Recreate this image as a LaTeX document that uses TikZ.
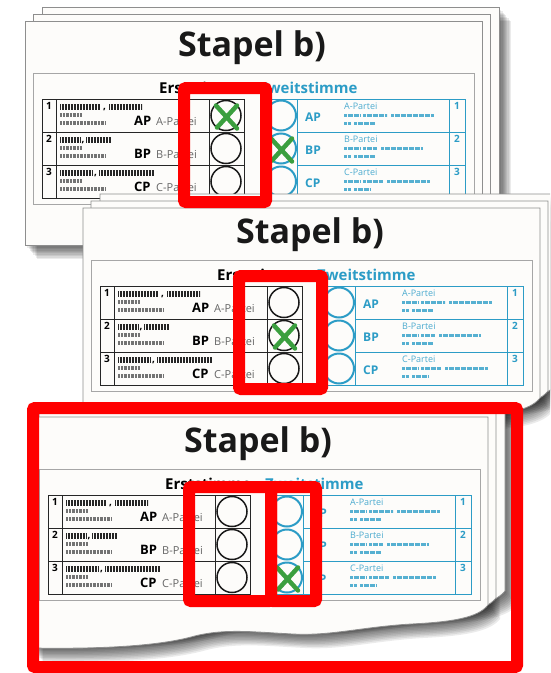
\documentclass[tikz,border=0pt]{standalone}
\usepackage{fontspec}
\setmainfont{Open Sans}
\usepackage{xcolor}
\usepackage{tikz}
\usetikzlibrary{calc}
\definecolor{ballotred}{HTML}{FF0000}
\definecolor{ballotcyan}{HTML}{2C9CC6}
\definecolor{ballotgreen}{HTML}{3B9F3F}
\definecolor{sheetfill}{HTML}{FDFCFA}
\definecolor{sheetedge}{HTML}{8E8E8E}
\tikzset{
  sheet/.style={draw=sheetedge,line width=.8pt,fill=sheetfill},
  sheetshadow/.style={fill=black,opacity=.08,draw=none},
  stackframe/.style={draw=gray!70,line width=.9pt},
  blacktab/.style={draw=black!85,line width=.9pt},
  cyantab/.style={draw=ballotcyan,line width=1pt},
  titletext/.style={font=\fontsize{34}{34}\selectfont\bfseries,text=black!90,inner sep=0pt},
  headtext/.style={font=\fontsize{15}{15}\selectfont\bfseries,inner sep=0pt,anchor=base west},
  numtext/.style={font=\fontsize{10}{10}\selectfont\bfseries,inner sep=0pt,anchor=base},
  rnumtext/.style={numtext,text=ballotcyan},
  abbrtext/.style={font=\fontsize{13}{13}\selectfont\bfseries,inner sep=0pt,anchor=base west},
  partytext/.style={font=\fontsize{11}{11}\selectfont,text=black!60,inner sep=0pt,anchor=base west},
  cyanabbr/.style={font=\fontsize{12}{12}\selectfont\bfseries,text=ballotcyan,inner sep=0pt,anchor=base west},
  cyanname/.style={font=\fontsize{9}{9}\selectfont,text=ballotcyan!85,inner sep=0pt,anchor=base west},
  namebars/.style={draw=black!85,line width=5.5pt,dash pattern=on .7pt off .8pt},
  smallbars/.style={draw=black!55,line width=4pt,dash pattern=on .6pt off .8pt},
  cyanbars/.style={draw=ballotcyan!80,line width=3pt,dash pattern=on .5pt off .7pt},
  ballotcircle/.style={draw=black!90,line width=1.5pt},
  zweitcircle/.style={draw=ballotcyan,line width=2pt},
  xmark/.style={draw=ballotgreen,line width=4.5pt,line cap=round},
  redmark/.style={draw=ballotred,line width=12pt,rounded corners=2pt}
}
% one stack of ballots: id, x, y, right/bottom edge, marks (x/row)
\newcommand{\ballotstack}[5]{%
  \begin{scope}[shift={(#2,#3)}]
    \foreach \k in {1,...,10}{
      \fill[sheetshadow,shift={({17+1.2*\k},{-14+1.4*\k})}] (0,0) -- (457,0) #4 -- cycle;
      \fill[sheetshadow,shift={({1.2*\k},{1.4*\k})}] (0,0) -- (457,0) #4 -- cycle;
    }
    \draw[sheet,shift={(17,-14)}] (0,0) -- (457,0) #4 -- cycle;
    \draw[sheet,shift={(8,-7)}] (0,0) -- (457,0) #4 -- cycle;
    \draw[sheet] (0,0) -- (457,0) #4 -- cycle;
    \node[titletext,anchor=base] (#1-title) at (227,35) {Stapel b)};
    \draw[stackframe] (8,52) rectangle (449,183);
    \node[headtext] (#1-erst) at (134,72) {Erststimme};
    \node[headtext,text=ballotcyan] (#1-zweit) at (234,72) {Zweitstimme};
    % Erststimme table
    \draw[blacktab] (17,78) rectangle (219,177);
    \draw[blacktab] (31,78) -- (31,177) (184,78) -- (184,177) (17,111) -- (219,111) (17,144) -- (219,144);
    % Zweitstimme table
    \draw[cyantab] (240,78) -- (440,78) -- (440,177) -- (240,177);
    \draw[cyantab] (272,78) -- (272,177) (424,78) -- (424,177) (272,111) -- (440,111) (272,144) -- (440,144);
    \foreach \n/\p/\sa/\sb/\sc/\ra/\rb/\rc in {1/A/75/84/117/362/409/350,2/B/55/61/86/352/397/350,3/C/67/74/129/358/405/345}{
      \pgfmathsetmacro\ry{45+33*\n}
      \node[numtext] (#1-lnum\n) at (24,\ry+10) {\n};
      \draw[namebars] (35,\ry+8) -- (\sa,\ry+8) (\sb,\ry+8) -- (\sc,\ry+8);
      \node[numtext] (#1-comma\n) at ({(\sa+\sb)/2},\ry+10) {,};
      \draw[smallbars] (35,\ry+16) -- (57,\ry+16) (35,\ry+24) -- (80,\ry+24);
      \node[abbrtext] (#1-labbr\n) at (109,\ry+26) {\p P};
      \node[partytext] (#1-lname\n) at (131,\ry+26) {\p-Partei};
      \draw[ballotcircle] (201,\ry+16.5) circle[radius=15pt];
      \draw[zweitcircle] (256,\ry+16.5) circle[radius=15pt];
      \node[cyanabbr] (#1-rabbr\n) at (280,\ry+22) {\p P};
      \node[cyanname] (#1-rname\n) at (319,\ry+10) {\p-Partei};
      \draw[cyanbars] (319,\ry+16.5) -- (335,\ry+16.5) (338,\ry+16.5) -- (\ra,\ry+16.5) (\ra+4,\ry+16.5) -- (\rb,\ry+16.5)
        (319,\ry+24) -- (326,\ry+24) (329,\ry+24) -- (\rc,\ry+24);
      \node[rnumtext] (#1-rnum\n) at (432,\ry+10) {\n};
    }
    \foreach \mx/\mr in {#5}{
      \pgfmathsetmacro\my{61.5+33*\mr}
      \draw[xmark] (\mx-10,\my-10) -- (\mx+11,\my+13) (\mx+11,\my-10) -- (\mx-9,\my+12);
    }
  \end{scope}}

\begin{document}
\begin{tikzpicture}[x=1pt,y=-1pt]
  \useasboundingbox (0,0) rectangle (550,673);
  \clip (0,0) rectangle (550,673);
  \ballotstack{s1}{25}{21}{-- (457,224) -- (0,224)}{201/1,256/2}
  \ballotstack{s2}{83}{208}{-- (457,190) .. controls (447,203) and (420,207) .. (380,209) .. controls (330,212) and (300,221) .. (262,219) .. controls (222,217) and (192,213) .. (160,222) .. controls (122,232) and (60,234) .. (0,233)}{201/2}
  \ballotstack{s3}{31}{417}{-- (457,188) .. controls (447,201) and (420,205) .. (380,207) .. controls (330,210) and (300,219) .. (262,217) .. controls (222,215) and (192,211) .. (160,220) .. controls (122,230) and (60,232) .. (0,231)}{256/3}
  % red highlights
  \draw[redmark] (184,88) rectangle (266,202);
  \draw[redmark] (239,276) rectangle (322,389);
  \draw[redmark] (33,408) rectangle (517,667);
  \draw[redmark] (189,487) rectangle (271,601);
  \draw[redmark] (271,487) rectangle (316,601);
\end{tikzpicture}
\end{document}
